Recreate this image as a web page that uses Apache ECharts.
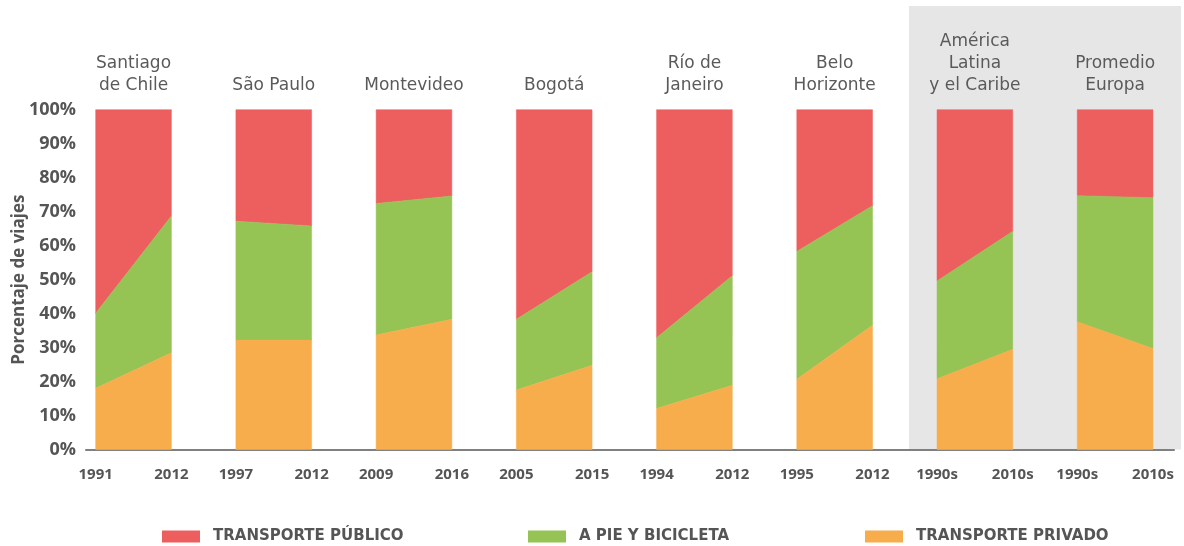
<!DOCTYPE html>
<html>
<head>
<meta charset="utf-8">
<script src="https://cdn.jsdelivr.net/npm/echarts@6/dist/echarts.min.js"></script>
<style>
  html, body { margin: 0; padding: 0; background: #fff; }
  #chart { width: 1184px; height: 546px; }
</style>
</head>
<body>
<div id="chart"></div>
<script>
// ciudades (etiqueta superior) y años de inicio / fin
var ciudades = ['Santiago\nde Chile', 'São Paulo', 'Montevideo', 'Bogotá', 'Río de\nJaneiro', 'Belo\nHorizonte', 'América\nLatina\ny el Caribe', 'Promedio\nEuropa'];
var anioInicio = ['1991', '1997', '2009', '2005', '1994', '1995', '1990s', '1990s'];
var anioFin = ['2012', '2012', '2016', '2015', '2012', '2012', '2010s', '2010s'];

// porcentaje de viajes por modo, [inicio, fin]
var privado = [[18.0, 28.5], [32.2, 32.2], [33.7, 38.3], [17.5, 24.8], [12.1, 18.9], [20.7, 36.6], [20.8, 29.5], [37.6, 29.7]];
var pieBici = [[22.1, 40.2], [35.0, 33.6], [38.7, 36.3], [20.8, 27.5], [20.8, 32.2], [37.6, 35.1], [28.8, 34.7], [37.1, 44.4]];
var publico = [[59.9, 31.3], [32.8, 34.2], [27.6, 25.4], [61.7, 47.7], [67.1, 48.9], [41.7, 28.3], [50.4, 35.8], [25.3, 25.9]];

var yTicks = [0, 10, 20, 30, 40, 50, 60, 70, 80, 90, 100];
var modos = ['TRANSPORTE PÚBLICO', 'A PIE Y BICICLETA', 'TRANSPORTE PRIVADO'];

var W = 0.54; // ancho de cada bloque en unidades del eje
var gris = '#555555';

// filas [k, baseIni, baseFin, topeIni, topeFin] para cada capa
function capa(listas) {
  return ciudades.map(function (c, k) {
    var b0 = 0, b1 = 0;
    for (var i = 0; i < listas.length - 1; i++) {
      b0 += listas[i][k][0];
      b1 += listas[i][k][1];
    }
    var ult = listas[listas.length - 1][k];
    return [k, b0, b1, b0 + ult[0], b1 + ult[1]];
  });
}

function renderBloque(color) {
  return function (params, api) {
    var k = api.value(0);
    var p1 = api.coord([k, api.value(1)]);
    var p2 = api.coord([k + W, api.value(2)]);
    var p3 = api.coord([k + W, api.value(4)]);
    var p4 = api.coord([k, api.value(3)]);
    return {
      type: 'polygon',
      shape: { points: [p1, p2, p3, p4] },
      style: { fill: color, stroke: color, lineWidth: 0.5 }
    };
  };
}

var inicios = ciudades.map(function (c, k) { return k; });
var finales = ciudades.map(function (c, k) { return k + W; });
var centros = ciudades.map(function (c, k) { return k + W / 2; });

var myChart = echarts.init(document.getElementById('chart'));

var series = [
  { name: modos[0], color: '#ED5F5F', data: capa([privado, pieBici, publico]) },
  { name: modos[1], color: '#95C354', data: capa([privado, pieBici]) },
  { name: modos[2], color: '#F7AD4C', data: capa([privado]) }
].map(function (s) {
  return {
    type: 'custom',
    name: s.name,
    itemStyle: { color: s.color },
    renderItem: renderBloque(s.color),
    encode: { x: 0, y: [1, 2, 3, 4] },
    data: s.data,
    z: 2
  };
});

// una leyenda por modo, para colocarlas como en el original
var leyendas = [162, 528, 865].map(function (x, i) {
  return {
    top: 529,
    left: x,
    padding: 0,
    itemWidth: 38,
    itemHeight: 12,
    itemGap: 0,
    icon: 'rect',
    textStyle: { color: gris, fontFamily: 'DejaVu Sans', fontWeight: 'bold', fontSize: 15, padding: [0, 0, 0, 8] },
    data: [modos[i]]
  };
});

myChart.setOption({
  animation: false,
  grid: { left: 86, right: 10, top: 109.7, bottom: 96.5, outerBoundsMode: 'none', containLabel: false },
  legend: leyendas,
  xAxis: [
    {
      type: 'value',
      min: -0.069,
      max: 7.69,
      axisLine: { show: true, lineStyle: { color: '#808080', width: 2 } },
      axisTick: { show: false },
      splitLine: { show: false },
      axisLabel: {
        customValues: inicios.concat(finales),
        margin: 18,
        color: gris,
        fontFamily: 'Open Sans',
        fontWeight: 'bold',
        fontSize: 15,
        formatter: function (v) {
          var k = Math.floor(v + 0.001);
          return (v - k > 0.1) ? anioFin[k] : anioInicio[k];
        }
      }
    },
    {
      type: 'value',
      position: 'top',
      min: -0.069,
      max: 7.69,
      axisLine: { show: false },
      axisTick: { show: false },
      splitLine: { show: false },
      axisLabel: {
        customValues: centros,
        margin: 13,
        color: '#5a5a5a',
        fontFamily: 'DejaVu Sans',
        fontSize: 17,
        lineHeight: 22,
        formatter: function (v) {
          return ciudades[Math.round(v - W / 2)];
        }
      }
    }
  ],
  yAxis: {
    type: 'value',
    min: 0,
    max: 100,
    interval: 10,
    name: 'Porcentaje de viajes',
    nameLocation: 'middle',
    nameGap: 58,
    nameMoveOverlap: false,
    nameTextStyle: { color: gris, fontFamily: 'Open Sans', fontWeight: 'bold', fontSize: 17 },
    axisLine: { show: false },
    axisTick: { show: false },
    splitLine: { show: false },
    axisLabel: {
      margin: 10,
      color: gris,
      fontFamily: 'Open Sans',
      fontWeight: 'bold',
      fontSize: 18,
      customValues: yTicks,
      formatter: '{value}%'
    }
  },
  series: series
});

// fondo gris detrás de los promedios regionales
var xIzq = myChart.convertToPixel({ xAxisIndex: 0 }, 6) - 28;
var yBase = myChart.convertToPixel({ yAxisIndex: 0 }, 0);
myChart.setOption({
  graphic: [{
    type: 'rect',
    z: -10,
    shape: { x: xIzq, y: 6, width: 1181 - xIzq, height: yBase - 6 },
    style: { fill: '#E6E6E6' }
  }]
});
</script>
</body>
</html>
